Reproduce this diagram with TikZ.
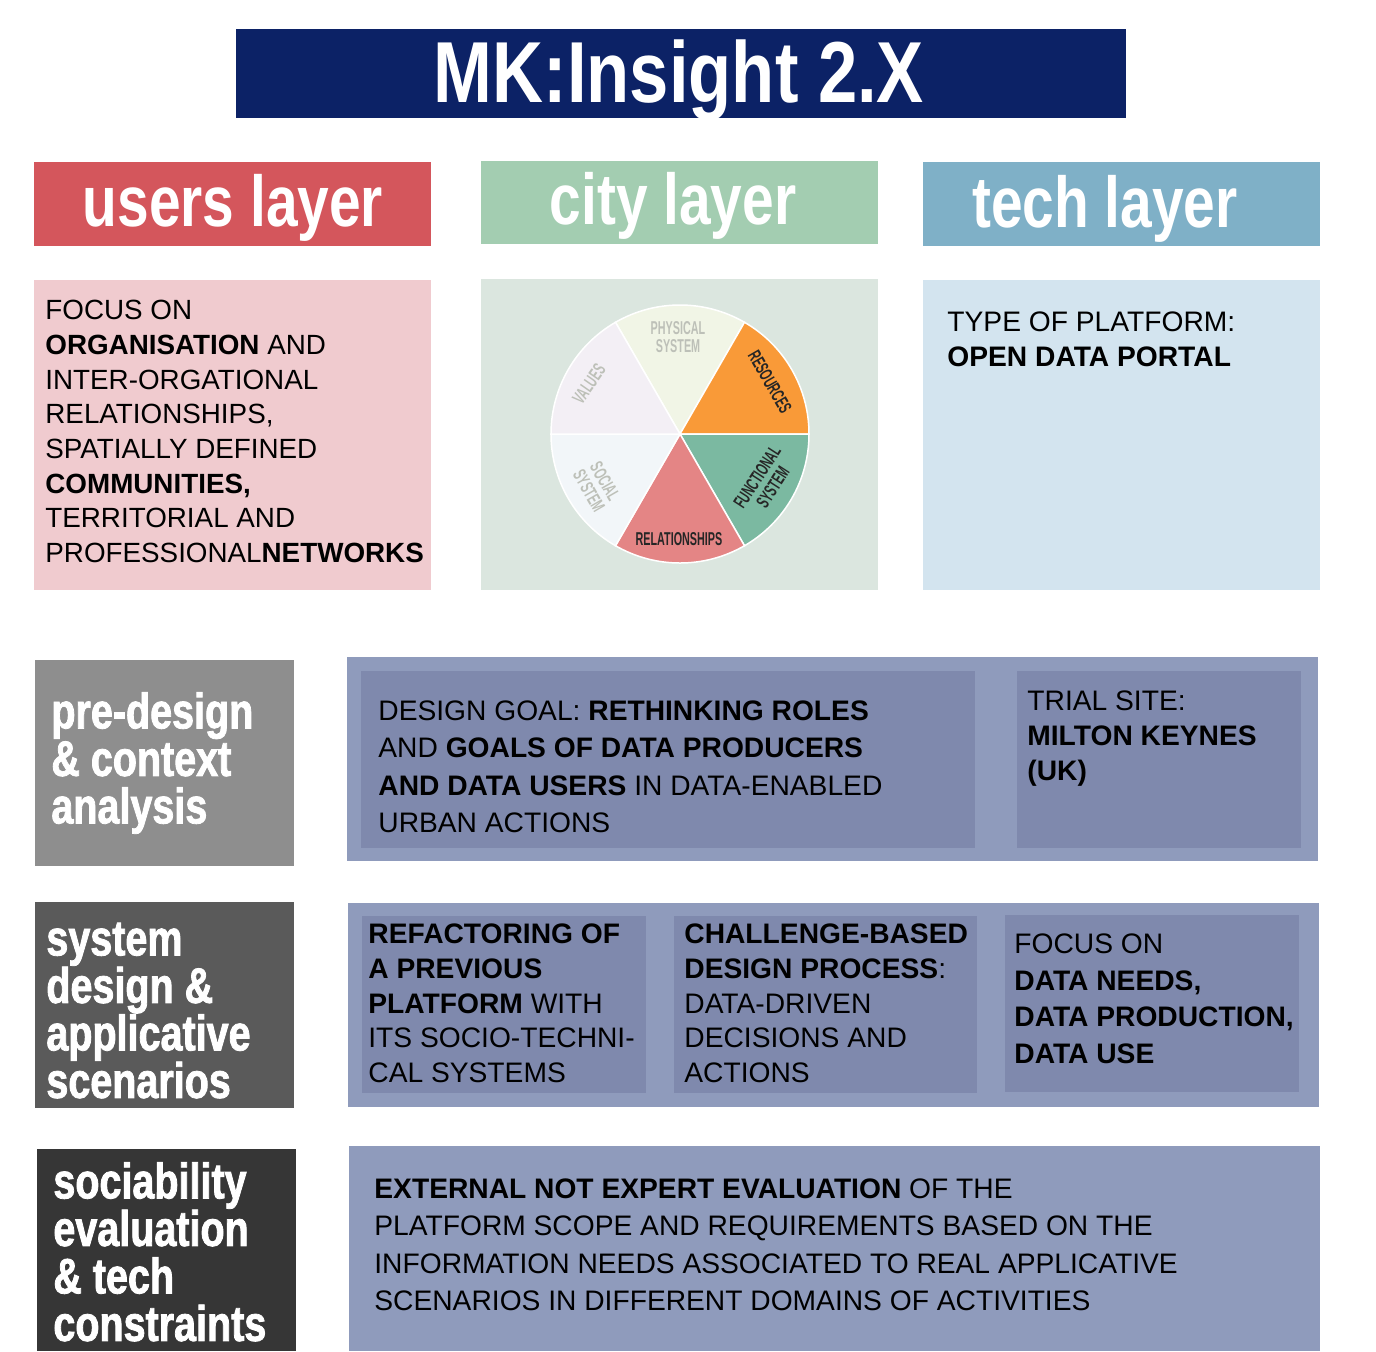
\documentclass[tikz,border=0pt]{standalone}
\usepackage{fontspec}
\setmainfont{Liberation Sans}
\newfontfamily\titlefont[FakeStretch=0.815]{Liberation Sans}
\newfontfamily\headfont[FakeStretch=0.79]{Liberation Sans}
\newfontfamily\stagefont[FakeStretch=0.79,FakeBold=1.6]{Liberation Sans Bold}
\newfontfamily\piefont[FakeStretch=0.58]{Liberation Sans}
\newcommand{\bodystrut}{\rule{0pt}{11.35pt}}
\newcommand{\stagestrut}{\rule{0pt}{20pt}}

\definecolor{titlecol}{HTML}{0C2266}
\definecolor{usershead}{HTML}{D4565C}
\definecolor{usersbox}{HTML}{F0CBCF}
\definecolor{cityhead}{HTML}{A3CDB1}
\definecolor{citybox}{HTML}{DBE6DF}
\definecolor{techhead}{HTML}{7FB0C7}
\definecolor{techbox}{HTML}{D3E4EF}
\definecolor{stageone}{HTML}{8E8E8E}
\definecolor{stagetwo}{HTML}{5A5A5A}
\definecolor{stagethree}{HTML}{363636}
\definecolor{bandout}{HTML}{8F9BBC}
\definecolor{bandin}{HTML}{7F89AD}
\definecolor{physcol}{HTML}{F1F5E6}
\definecolor{rescol}{HTML}{F99A38}
\definecolor{funcol}{HTML}{7BB9A1}
\definecolor{relcol}{HTML}{E48585}
\definecolor{soccol}{HTML}{F2F6F9}
\definecolor{valcol}{HTML}{F3EFF5}
\definecolor{pielight}{HTML}{BDC0B8}
\definecolor{piedark}{HTML}{262626}

\begin{document}
\begin{tikzpicture}[x=0.5pt,y=0.5pt]
  \tikzset{titletext/.style={anchor=base, text=white, font=\titlefont\bfseries\fontsize{43.3}{43.3}\selectfont}}
  \tikzset{headtext/.style={anchor=base, text=white, font=\headfont\bfseries\fontsize{36}{36}\selectfont}}
  \tikzset{stagetext/.style={anchor=north west, inner sep=0pt, align=left, text=white, font=\stagefont\fontsize{25}{23.75}\selectfont}}
  \tikzset{body/.style={anchor=north west, inner sep=0pt, align=left, text=black, font=\fontsize{14.1}{#1}\selectfont}}
  \tikzset{pielabel/.style={inner sep=0pt, align=center, font=\piefont\bfseries\fontsize{9.3}{9.3}\selectfont}}

  \def\pr{64.5pt}

  \useasboundingbox (0,0) rectangle (1376,-1351);

  % Title
  \fill[titlecol] (236,-29) rectangle (1126,-118);
  \node[titletext] (title) at (679,-102) {MK:Insight 2.X};

  % Layers
  \fill[usershead] (34,-162) rectangle (431,-246);
  \fill[cityhead] (481,-161) rectangle (878,-244);
  \fill[techhead] (923,-162) rectangle (1320,-246);
  \node[headtext] (users) at (233,-226) {users layer};
  \node[headtext] (city) at (673,-224) {city layer};
  \node[headtext] (tech) at (1105,-227) {tech layer};

  \fill[usersbox] (34,-280) rectangle (431,-590);
  \fill[citybox] (481,-279) rectangle (878,-590);
  \fill[techbox] (923,-280) rectangle (1320,-590);

  \node[body=17.35, font=\fontsize{13.9}{17.35}\selectfont] (userstext) at (45,-296.5) {\bodystrut FOCUS ON\\
    \textbf{ORGANISATION} AND\\
    INTER-ORGATIONAL\\
    RELATIONSHIPS,\\
    SPATIALLY DEFINED\\
    \textbf{COMMUNITIES,}\\
    TERRITORIAL AND\\
    PROFESSIONAL\textbf{NETWORKS}};
  \node[body=17.5] (techtext) at (947,-308.3) {\bodystrut TYPE OF PLATFORM:\\
    \textbf{OPEN DATA PORTAL}};

  % Pie
  \coordinate (pc) at (680,-434);
  \filldraw[fill=physcol, draw=white, line width=0.75pt] (pc) -- ++(60:\pr) arc (60:120:\pr) -- cycle;
  \filldraw[fill=rescol, draw=white, line width=0.75pt] (pc) -- ++(0:\pr) arc (0:60:\pr) -- cycle;
  \filldraw[fill=funcol, draw=white, line width=0.75pt] (pc) -- ++(-60:\pr) arc (-60:0:\pr) -- cycle;
  \filldraw[fill=relcol, draw=white, line width=0.75pt] (pc) -- ++(-120:\pr) arc (-120:-60:\pr) -- cycle;
  \filldraw[fill=soccol, draw=white, line width=0.75pt] (pc) -- ++(180:\pr) arc (180:240:\pr) -- cycle;
  \filldraw[fill=valcol, draw=white, line width=0.75pt] (pc) -- ++(120:\pr) arc (120:180:\pr) -- cycle;

  \node[pielabel, text=pielight] (phys) at (678,-337) {PHYSICAL\\SYSTEM};
  \node[pielabel, text=piedark, rotate=-60] (res) at (770,-382) {RESOURCES};
  \node[pielabel, text=piedark, rotate=57] (func) at (765,-482) {FUNCTIONAL\\SYSTEM};
  \node[pielabel, text=piedark] (rel) at (679,-539) {RELATIONSHIPS};
  \node[pielabel, text=pielight, rotate=-60] (soc) at (597,-486) {SOCIAL\\SYSTEM};
  \node[pielabel, text=pielight, rotate=55] (val) at (589,-384) {VALUES};

  % Stages
  \fill[stageone] (35,-660) rectangle (294,-866);
  \fill[stagetwo] (35,-902) rectangle (294,-1108);
  \fill[stagethree] (37,-1149) rectangle (296,-1351);
  \node[stagetext] (predesign) at (51,-688) {\stagestrut pre-design\\ \& context\\ analysis};
  \node[stagetext] (sysdesign) at (46,-915) {\stagestrut system\\ design \&\\ applicative\\ scenarios};
  \node[stagetext] (sociab) at (53,-1158) {\stagestrut sociability\\ evaluation\\ \& tech\\ constraints};

  % Bands
  \fill[bandout] (347,-657) rectangle (1318,-861);
  \fill[bandin] (361,-671) rectangle (975,-848);
  \fill[bandin] (1017,-671) rectangle (1301,-848);
  \node[body=18.75] (goal) at (378,-697.3) {\bodystrut DESIGN GOAL: \textbf{RETHINKING ROLES}\\
    AND \textbf{GOALS OF DATA PRODUCERS}\\
    \textbf{AND DATA USERS} IN DATA-ENABLED\\
    URBAN ACTIONS};
  \node[body=17.5] (site) at (1027,-687.3) {\bodystrut TRIAL SITE:\\
    \textbf{MILTON KEYNES}\\
    \textbf{(UK)}};

  \fill[bandout] (348,-903) rectangle (1319,-1107);
  \fill[bandin] (362,-916) rectangle (646,-1093);
  \fill[bandin] (674,-916) rectangle (977,-1093);
  \fill[bandin] (1005,-915) rectangle (1299,-1092);
  \node[body=17.4] (refact) at (368,-920.3) {\bodystrut\textbf{REFACTORING OF}\\
    \textbf{A PREVIOUS}\\
    \textbf{PLATFORM} WITH\\
    ITS SOCIO-TECHNI-\\
    CAL SYSTEMS};
  \node[body=17.4] (challenge) at (684,-920.3) {\bodystrut\textbf{CHALLENGE-BASED}\\
    \textbf{DESIGN PROCESS}:\\
    DATA-DRIVEN\\
    DECISIONS AND\\
    ACTIONS};
  \node[body=18.35] (needs) at (1014,-930.3) {\bodystrut FOCUS ON\\
    \textbf{DATA NEEDS,}\\
    \textbf{DATA PRODUCTION,}\\
    \textbf{DATA USE}};

  \fill[bandout] (349,-1146) rectangle (1320,-1351);
  \node[body=18.75] (external) at (374,-1175.3) {\bodystrut\textbf{EXTERNAL NOT EXPERT EVALUATION} OF THE\\
    PLATFORM SCOPE AND REQUIREMENTS BASED ON THE\\
    INFORMATION NEEDS ASSOCIATED TO REAL APPLICATIVE\\
    SCENARIOS IN DIFFERENT DOMAINS OF ACTIVITIES};
\end{tikzpicture}
\end{document}
